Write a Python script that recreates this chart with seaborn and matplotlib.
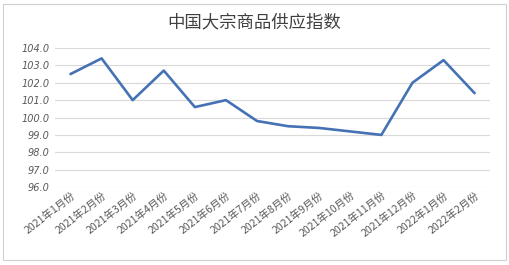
import matplotlib
matplotlib.use("Agg")
import matplotlib.pyplot as plt
import seaborn as sns
import pandas as pd
from matplotlib.patches import Rectangle

months = ["2021年1月份", "2021年2月份", "2021年3月份", "2021年4月份", "2021年5月份",
          "2021年6月份", "2021年7月份", "2021年8月份", "2021年9月份", "2021年10月份",
          "2021年11月份", "2021年12月份", "2022年1月份", "2022年2月份"]
values = [102.5, 103.4, 101.0, 102.7, 100.6, 101.0, 99.8, 99.5, 99.4, 99.2,
          99.0, 102.0, 103.3, 101.4]
yticks = [96.0, 97.0, 98.0, 99.0, 100.0, 101.0, 102.0, 103.0, 104.0]

sns.set_theme(style="white")
plt.rcParams['font.family'] = ['Noto Sans CJK SC', 'DejaVu Sans']

df = pd.DataFrame({"month": months, "value": values})

fig = plt.figure(figsize=(5.09, 2.65), dpi=100)
fig.patches.append(Rectangle((0.006, 0.02), 0.988, 0.965, transform=fig.transFigure,
                             fill=False, edgecolor="#d0d0d0", linewidth=0.8))
ax = fig.add_axes([0.108, 0.294, 0.855, 0.525])
sns.lineplot(data=df, x="month", y="value", sort=False, ax=ax,
             color="#4472B4", linewidth=1.9)
ax.set_xlim(-0.5, len(months) - 0.5)
ax.set_ylim(96, 104)
ax.set_yticks(yticks)
ax.set_yticklabels([f"{v:.1f}" for v in yticks], fontsize=7, color="#595959",
                   style="italic", family=["DejaVu Sans"])
ax.set_xticks(range(len(months)))
ax.set_xticklabels(months, rotation=38, ha="right", rotation_mode="anchor",
                   fontsize=7.6, color="#595959")
ax.tick_params(axis="x", length=0, pad=2)
ax.tick_params(axis="y", length=0, pad=4)
ax.grid(axis="y", color="#d9d9d9", linewidth=0.8)
ax.set_axisbelow(True)
for s in ax.spines.values():
    s.set_visible(False)
ax.set_xlabel("")
ax.set_ylabel("")
fig.text(0.5, 0.915, "中国大宗商品供应指数", ha="center", va="center",
         fontsize=12.5, color="#404040")
fig.savefig("out.png", dpi=100)
